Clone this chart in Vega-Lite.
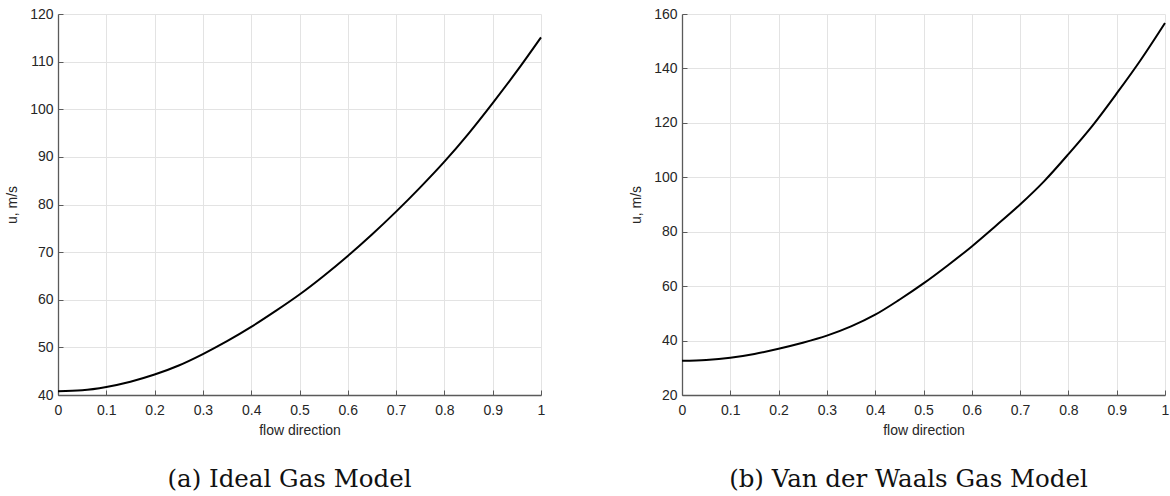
{
  "$schema": "https://vega.github.io/schema/vega-lite/v6.json",
  "background": "white",
  "padding": {"left": 5, "top": 7, "right": 4, "bottom": 4},
  "spacing": 84,
  "datasets": {
    "ideal": [
      {"x": 0.00, "u": 40.8}, {"x": 0.05, "u": 41.0}, {"x": 0.10, "u": 41.7},
      {"x": 0.15, "u": 42.8}, {"x": 0.20, "u": 44.3}, {"x": 0.25, "u": 46.2},
      {"x": 0.30, "u": 48.6}, {"x": 0.35, "u": 51.3}, {"x": 0.40, "u": 54.3},
      {"x": 0.45, "u": 57.6}, {"x": 0.50, "u": 61.1}, {"x": 0.55, "u": 65.0},
      {"x": 0.60, "u": 69.2}, {"x": 0.65, "u": 73.7}, {"x": 0.70, "u": 78.5},
      {"x": 0.75, "u": 83.6}, {"x": 0.80, "u": 89.0}, {"x": 0.85, "u": 94.9},
      {"x": 0.90, "u": 101.3}, {"x": 0.95, "u": 108.0}, {"x": 1.00, "u": 115.1}
    ],
    "vdw": [
      {"x": 0.00, "u": 32.6}, {"x": 0.05, "u": 32.9}, {"x": 0.10, "u": 33.7},
      {"x": 0.15, "u": 35.1}, {"x": 0.20, "u": 37.0}, {"x": 0.25, "u": 39.2},
      {"x": 0.30, "u": 41.8}, {"x": 0.35, "u": 45.2}, {"x": 0.40, "u": 49.5},
      {"x": 0.45, "u": 55.0}, {"x": 0.50, "u": 61.0}, {"x": 0.55, "u": 67.6},
      {"x": 0.60, "u": 74.6}, {"x": 0.65, "u": 82.2}, {"x": 0.70, "u": 90.0},
      {"x": 0.75, "u": 98.6}, {"x": 0.80, "u": 108.5}, {"x": 0.85, "u": 119.0},
      {"x": 0.90, "u": 130.8}, {"x": 0.95, "u": 143.2}, {"x": 1.00, "u": 156.7}
    ]
  },
  "config": {
    "view": {"stroke": null},
    "font": "Liberation Sans",
    "axis": {
      "labelFont": "Liberation Sans",
      "labelFontSize": 14,
      "labelColor": "#262626",
      "titleFont": "Liberation Sans",
      "titleFontSize": 14,
      "titleFontWeight": "normal",
      "titleColor": "#262626",
      "domainColor": "#5a5a5a",
      "domainWidth": 1.3,
      "tickColor": "#5a5a5a",
      "tickSize": -5,
      "tickWidth": 1,
      "gridColor": "#e3e3e3",
      "gridWidth": 1,
      "labelFlush": false,
      "labelOverlap": false
    },
    "axisX": {"labelPadding": 13, "titlePadding": 6},
    "axisY": {"labelPadding": 10, "titlePadding": 10},
    "title": {
      "font": "DejaVu Serif",
      "fontSize": 24.5,
      "fontWeight": "normal",
      "color": "#111111",
      "orient": "bottom",
      "anchor": "middle",
      "frame": "group",
      "offset": 31
    }
  },
  "hconcat": [
    {
      "width": 483,
      "height": 381,
      "title": {"text": "(a) Ideal Gas Model", "dx": -10},
      "data": {"name": "ideal"},
      "mark": {"type": "line", "color": "black", "strokeWidth": 2, "interpolate": "monotone"},
      "encoding": {
        "x": {
          "field": "x", "type": "quantitative", "title": "flow direction",
          "scale": {"domain": [0, 1], "nice": false, "zero": false},
          "axis": {"values": [0, 0.1, 0.2, 0.3, 0.4, 0.5, 0.6, 0.7, 0.8, 0.9, 1], "format": "~g"}
        },
        "y": {
          "field": "u", "type": "quantitative", "title": "u, m/s",
          "scale": {"domain": [40, 120], "nice": false, "zero": false},
          "axis": {"values": [40, 50, 60, 70, 80, 90, 100, 110, 120]}
        }
      }
    },
    {
      "width": 483,
      "height": 381,
      "title": {"text": "(b) Van der Waals Gas Model", "dx": -15},
      "data": {"name": "vdw"},
      "mark": {"type": "line", "color": "black", "strokeWidth": 2, "interpolate": "monotone"},
      "encoding": {
        "x": {
          "field": "x", "type": "quantitative", "title": "flow direction",
          "scale": {"domain": [0, 1], "nice": false, "zero": false},
          "axis": {"values": [0, 0.1, 0.2, 0.3, 0.4, 0.5, 0.6, 0.7, 0.8, 0.9, 1], "format": "~g"}
        },
        "y": {
          "field": "u", "type": "quantitative", "title": "u, m/s",
          "scale": {"domain": [20, 160], "nice": false, "zero": false},
          "axis": {"values": [20, 40, 60, 80, 100, 120, 140, 160]}
        }
      }
    }
  ]
}
